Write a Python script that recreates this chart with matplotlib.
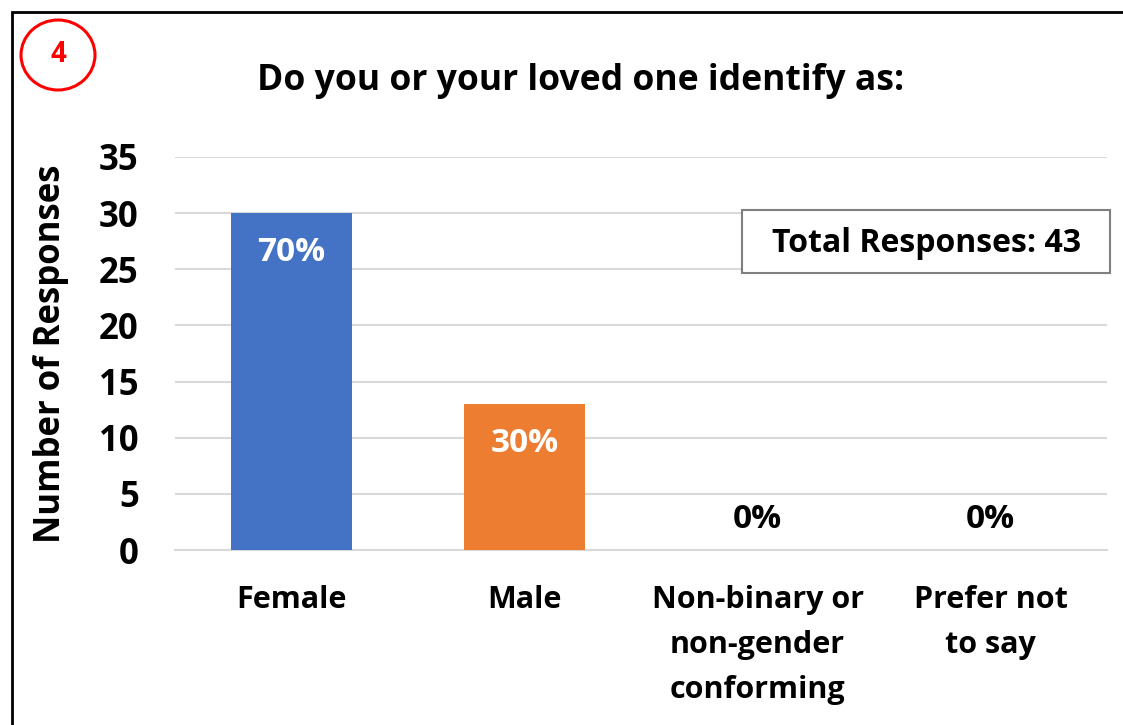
import matplotlib.pyplot as plt
from matplotlib.patches import Rectangle, Ellipse

plt.rcParams['font.family'] = ['Open Sans', 'DejaVu Sans']
plt.rcParams['font.weight'] = 'bold'

categories = ["Female", "Male", "Non-binary or\nnon-gender\nconforming", "Prefer not\nto say"]
counts = [30, 13, 0, 0]
pct_labels = ["70%", "30%", "0%", "0%"]
bar_colors = ["#4472C4", "#ED7D31", "#A5A5A5", "#FFC000"]
y_ticks = [0, 5, 10, 15, 20, 25, 30, 35]
total_text = "Total Responses: 43"
title = "Do you or your loved one identify as:"

W, H = 1123, 725
fig = plt.figure(figsize=(W / 100, H / 100), dpi=100)
ax = fig.add_axes([175 / W, 1 - 550 / H, (1107 - 175) / W, (550 - 157) / H])

x = range(len(categories))
bars = ax.bar(x, counts, width=0.52, color=bar_colors, zorder=3)

ax.set_xlim(-0.5, len(categories) - 0.5)
ax.set_ylim(0, 35)
ax.set_yticks(y_ticks)
ax.set_yticklabels([str(t) for t in y_ticks], fontsize=25, fontweight='bold')
ax.set_xticks(list(x))
ax.set_xticklabels(categories, fontsize=22, fontweight='bold', linespacing=1.65, va='top')
ax.tick_params(axis='both', length=0)
ax.tick_params(axis='x', pad=25)
ax.tick_params(axis='y', pad=26)
ax.grid(axis='y', color='#D9D9D9', linewidth=1.5, zorder=0)
for side in ['top', 'right', 'left']:
    ax.spines[side].set_visible(False)
ax.spines['bottom'].set_color('#D9D9D9')
ax.spines['bottom'].set_linewidth(1.5)

ax.set_ylabel("Number of Responses", fontsize=25, fontweight='bold', labelpad=22)

# percentage labels: inside the bar top for tall bars, just above the axis for empty ones
for bar, val, lab in zip(bars, counts, pct_labels):
    cx = bar.get_x() + bar.get_width() / 2
    if val > 0:
        ax.text(cx, val - 2.05, lab, ha='center', va='top', color='white',
                fontsize=24, fontweight='bold', zorder=4)
    else:
        ax.text(cx, val + 1.25, lab, ha='center', va='bottom', color='black',
                fontsize=24, fontweight='bold', zorder=4)

# total responses box
ax.add_patch(Rectangle((0.608, 0.705), 0.395, 0.160, transform=ax.transAxes,
                       facecolor='white', edgecolor='#7F7F7F', linewidth=1.5,
                       zorder=5, clip_on=False))
ax.text(0.806, 0.779, total_text, transform=ax.transAxes, ha='center', va='center',
        fontsize=23, fontweight='bold', zorder=6)

fig.text(581 / W, 1 - 81 / H, title, ha='center', va='center', fontsize=25.6, fontweight='bold')

# outer frame
fig.patches.append(Rectangle((12 / W, -0.1), 1.2, 1 - 12 / H + 0.1, transform=fig.transFigure,
                             fill=False, edgecolor='black', linewidth=2))

# numbered red circle
fig.patches.append(Ellipse((58 / W, 1 - 55 / H), 74 / W, 70 / H, transform=fig.transFigure,
                           fill=False, edgecolor='#FF0000', linewidth=2.2))
fig.text(58 / W, 1 - 55 / H, "4", ha='center', va='center', color='#FF0000',
         fontsize=20, fontweight='bold')

fig.savefig("out.png", dpi=100, facecolor='white')
